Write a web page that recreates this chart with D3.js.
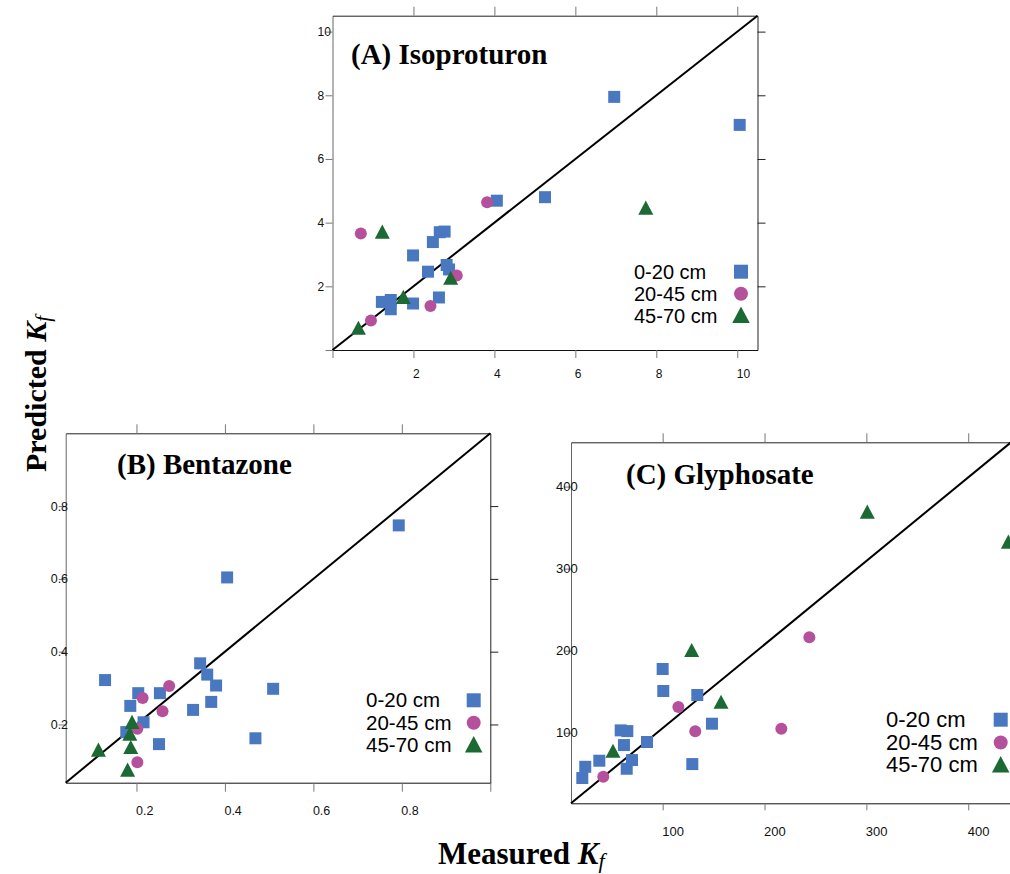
<!DOCTYPE html>
<html>
<head>
<meta charset="utf-8">
<script src="https://cdn.jsdelivr.net/npm/d3@7"></script>
<style>
    body { margin: 0; background: #fff; }
    .tick text { font-family: "Liberation Sans", Arial, sans-serif; fill: #111; }
    .title { font-family: "Liberation Serif", "Times New Roman", serif; font-weight: bold; }
    .legend text { font-family: "Liberation Sans", Arial, sans-serif; fill: #000; }
</style>
</head>
<body>
<svg class="kfChart" width="1010" height="874"></svg>
<script>
// depth classes shared by all three panels
const depthLabels = ['0-20 cm', '20-45 cm', '45-70 cm'];
const depthColors = ['#4a78c0', '#b5519c', '#1b6a34'];

// (A) Isoproturon  [measured, predicted]
const isoSurface = [[6.96,7.95],[10.06,7.07],[5.25,4.80],[4.06,4.69],[2.65,3.70],[2.77,3.72],[2.48,3.39],[1.99,2.97],[2.36,2.46],[2.82,2.67],[2.88,2.53],[2.63,1.65],[1.22,1.51],[1.44,1.57],[1.44,1.28],[1.99,1.46]];
const isoMiddle = [[0.70,3.66],[3.82,4.64],[3.07,2.34],[2.42,1.38],[0.95,0.93]];
const isoDeep = [[1.23,3.72],[7.74,4.47],[2.92,2.27],[1.75,1.67],[0.64,0.70]];
const isoTicks = [0, 2, 4, 6, 8, 10];

// (B) Bentazone
const benSurface = [[0.793,0.747],[0.405,0.604],[0.344,0.368],[0.360,0.337],[0.380,0.307],[0.369,0.262],[0.328,0.240],[0.509,0.298],[0.469,0.162],[0.251,0.146],[0.253,0.286],[0.129,0.322],[0.204,0.286],[0.186,0.251],[0.216,0.206],[0.177,0.179]];
const benMiddle = [[0.274,0.306],[0.214,0.273],[0.259,0.236],[0.202,0.188],[0.202,0.096]];
const benDeep = [[0.190,0.207],[0.185,0.175],[0.187,0.138],[0.180,0.076],[0.114,0.131]];
const benTicks = [0.2, 0.4, 0.6, 0.8];
const benTicksBottom = [0.2, 0.4, 0.6, 0.8, 1.0];

// (C) Glyphosate
const glySurface = [[100.0,177.7],[100.6,150.9],[134.0,146.0],[148.4,111.0],[84.6,88.7],[58.8,102.9],[65.3,102.0],[62.0,85.0],[69.9,66.7],[64.7,56.1],[37.8,65.9],[24.0,58.5],[21.1,44.8],[129.1,61.8]];
const glyMiddle = [[244.0,216.3],[115.4,131.3],[132.0,101.7],[216.5,104.9],[41.7,46.3]];
const glyDeep = [[300.9,369.5],[439.4,333.0],[128.5,200.8],[157.3,137.8],[51.2,78.0]];
const glyTicks = [100, 200, 300, 400];

const svg = d3.select('.kfChart');

function symbolPath(kind, size)
{
    if(kind == 0){
        let s = size;
        return `M${-s/2},${-s/2}h${s}v${s}h${-s}Z`;
    }
    if(kind == 2){
        let w = size * 1.25, h = size * 1.18;
        return `M0,${-h/2}L${w/2},${h/2}L${-w/2},${h/2}Z`;
    }
    let r = size / 2;
    return `M${-r},0A${r},${r} 0 1,0 ${r},0A${r},${r} 0 1,0 ${-r},0Z`;
}

function drawPanel(p)
{
    const xScale = d3.scaleLinear().domain(p.xDomain).range([p.left, p.right]);
    const yScale = d3.scaleLinear().domain(p.yDomain).range([p.bottom, p.top]);
    const fmt = d => (d == 0 || d == 1) ? '' : p.format(d);

    const g = svg.append('g').attr('class', 'panel');

    // left axis, labels overlap the ticks like the original
    const left = g.append('g')
        .attr('transform', `translate(${p.left},0)`)
        .call(d3.axisLeft(yScale).tickValues(p.leftTicks).tickSize(7).tickSizeOuter(0).tickFormat(fmt));
    left.select('.domain').attr('stroke', '#666');
    left.selectAll('.tick line').attr('stroke', '#777');
    left.selectAll('.tick text')
        .attr('text-anchor', 'start')
        .attr('x', -15)
        .attr('font-size', p.tickFont);

    const bottom = g.append('g')
        .attr('transform', `translate(0,${p.bottom})`)
        .call(d3.axisBottom(xScale).tickValues(p.bottomTicks).tickSize(p.bottomTick).tickSizeOuter(0).tickFormat(fmt));
    bottom.select('.domain').attr('stroke', '#111');
    bottom.selectAll('.tick line').attr('stroke', '#777');
    bottom.selectAll('.tick text')
        .attr('text-anchor', 'start')
        .attr('x', -1)
        .attr('y', p.bottomLabel)
        .attr('dy', 0)
        .attr('font-size', p.tickFont);

    const top = g.append('g')
        .attr('transform', `translate(0,${p.top})`)
        .call(d3.axisTop(xScale).tickValues(p.topTicks).tickSize(9).tickSizeOuter(0).tickFormat(''));
    top.select('.domain').attr('stroke', '#222');
    top.selectAll('.tick line').attr('stroke', '#777');

    const right = g.append('g')
        .attr('transform', `translate(${p.right},0)`)
        .call(d3.axisRight(yScale).tickValues(p.rightTicks).tickSize(8).tickSizeOuter(0).tickFormat(''));
    right.select('.domain').attr('stroke', '#222');
    right.selectAll('.tick line').attr('stroke', '#222');

    // 1:1 line
    g.append('path')
        .datum([[p.xDomain[0], p.yDomain[0]], [p.xDomain[1], p.yDomain[1]]])
        .attr('fill', 'none')
        .attr('stroke', '#000')
        .attr('stroke-width', 2)
        .attr('d', d3.line().x(d => xScale(d[0])).y(d => yScale(d[1])));

    p.series.forEach((data, k) => {
        g.selectAll(null)
            .data(data)
            .enter()
            .append('path')
            .attr('transform', d => `translate(${xScale(d[0])},${yScale(d[1])})`)
            .attr('d', symbolPath(k, 12))
            .attr('fill', depthColors[k]);
    });

    g.append('text')
        .attr('class', 'title')
        .attr('x', p.titleX)
        .attr('y', p.titleY)
        .attr('font-size', 29)
        .text(p.title);

    const legend = g.append('g').attr('class', 'legend');
    depthLabels.forEach((lab, k) => {
        legend.append('text')
            .attr('x', p.legendX)
            .attr('y', p.legendY + k * p.legendStep)
            .attr('font-size', p.legendFont)
            .text(lab);
        legend.append('path')
            .attr('transform', `translate(${p.legendSymX},${p.legendY - 7 + k * p.legendStep + (k == 2 ? -1 : 0)})`)
            .attr('d', symbolPath(k, 14))
            .attr('fill', depthColors[k]);
    });
}

drawPanel({
    title: '(A) Isoproturon', titleX: 351, titleY: 64,
    left: 332.5, right: 757.5, top: 15.7, bottom: 350,
    xDomain: [0, 10.5], yDomain: [0, 10.5],
    leftTicks: isoTicks, bottomTicks: isoTicks,
    topTicks: isoTicks.slice(1), rightTicks: isoTicks.slice(1),
    format: d3.format('d'), tickFont: 12, bottomTick: 8, bottomLabel: 28,
    series: [isoSurface, isoMiddle, isoDeep],
    legendX: 634, legendY: 278.7, legendStep: 22, legendSymX: 741, legendFont: 20
});

drawPanel({
    title: '(B) Bentazone', titleX: 117, titleY: 474,
    left: 65.7, right: 490.3, top: 433.3, bottom: 782.7,
    xDomain: [0.04, 1.0], yDomain: [0.04, 1.0],
    leftTicks: benTicks, bottomTicks: benTicksBottom,
    topTicks: benTicks, rightTicks: benTicks,
    format: d3.format('.1f'), tickFont: 12.5, bottomTick: 9, bottomLabel: 32,
    series: [benSurface, benMiddle, benDeep],
    legendX: 366, legendY: 707.3, legendStep: 22.5, legendSymX: 473.7, legendFont: 20.5
});

drawPanel({
    title: '(C) Glyphosate', titleX: 626, titleY: 484,
    left: 571, right: 1011, top: 442.3, bottom: 803.3,
    xDomain: [10, 442], yDomain: [14, 454],
    leftTicks: glyTicks, bottomTicks: glyTicks,
    topTicks: glyTicks, rightTicks: glyTicks,
    format: d3.format('d'), tickFont: 13, bottomTick: 7, bottomLabel: 33,
    series: [glySurface, glyMiddle, glyDeep],
    legendX: 886, legendY: 726.7, legendStep: 22.8, legendSymX: 1000.7, legendFont: 22
});

// shared axis titles
const xTitle = svg.append('text')
    .attr('class', 'title')
    .attr('x', 438)
    .attr('y', 864)
    .attr('font-size', 31)
    .text('Measured ');
xTitle.append('tspan').attr('font-style', 'italic').text('K');
xTitle.append('tspan').attr('font-style', 'italic').attr('font-weight', 'normal')
    .attr('font-size', 22).attr('dy', 4).text('f');

const yTitle = svg.append('text')
    .attr('class', 'title')
    .attr('transform', 'translate(46,472) rotate(-90)')
    .attr('font-size', 30)
    .text('Predicted ');
yTitle.append('tspan').attr('font-style', 'italic').text('K');
yTitle.append('tspan').attr('font-style', 'italic').attr('font-weight', 'normal')
    .attr('font-size', 21).attr('dy', 4).text('f');
</script>
</body>
</html>
